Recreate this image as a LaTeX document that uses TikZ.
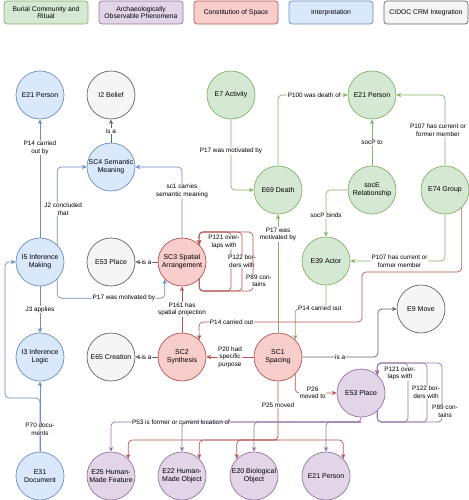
\documentclass[tikz,border=0pt]{standalone}
\usepackage{fontspec}
\setmainfont{Liberation Sans}
\usetikzlibrary{arrows.meta}
\definecolor{greenfill}{HTML}{D5E8D4}
\definecolor{greenline}{HTML}{82B366}
\definecolor{purplefill}{HTML}{E1D5E7}
\definecolor{purpleline}{HTML}{9673A6}
\definecolor{redfill}{HTML}{F8CECC}
\definecolor{redline}{HTML}{B85450}
\definecolor{bluefill}{HTML}{DAE8FC}
\definecolor{blueline}{HTML}{6C8EBF}
\definecolor{greyfill}{HTML}{F5F5F5}
\definecolor{greyline}{HTML}{666666}

\begin{document}
\begin{tikzpicture}[x=1bp, y=-1bp,
  ent/.style={circle, draw, line width=0.7bp, minimum size=48bp, inner sep=0pt, align=center, font=\fontsize{7}{8}\selectfont},
  burial/.style={ent, fill=greenfill, draw=greenline},
  archaeo/.style={ent, fill=purplefill, draw=purpleline},
  constit/.style={ent, fill=redfill, draw=redline},
  interp/.style={ent, fill=bluefill, draw=blueline},
  crm/.style={ent, fill=greyfill, draw=greyline},
  keybox/.style={rectangle, rounded corners=3bp, line width=0.7bp, minimum width=84bp, minimum height=23bp, inner sep=1bp, align=center, font=\fontsize{6.8}{7.8}\selectfont},
  rel/.style={line width=0.7bp, rounded corners=4bp, -{Stealth[length=4.5bp,width=4bp,inset=1bp]}},
  lbl/.style={fill=white, text=black, inner sep=0.6bp, align=center, font=\fontsize{6.4}{7.6}\selectfont}]
\useasboundingbox (0,0) rectangle (469,500);

\node[keybox, fill=greenfill, draw=greenline] (kburial) at (46,12.5) {Burial Community and\\Ritual};
\node[keybox, fill=purplefill, draw=purpleline] (karchaeo) at (141,12.5) {Archaeologically\\Observable Phenomena};
\node[keybox, fill=redfill, draw=redline] (kconstit) at (236,12.5) {Constitution of Space};
\node[keybox, fill=bluefill, draw=blueline] (kinterp) at (331,12.5) {Interpretation};
\node[keybox, fill=greyfill, draw=greyline] (kcrm) at (426,12.5) {CIDOC CRM Integration};

\node[interp] (e21p) at (40,95) {E21 Person};
\node[crm] (i2) at (111,95) {I2 Belief};
\node[interp] (sc4) at (111,167) {SC4 Semantic\\Meaning};
\node[burial] (e7) at (231,95) {E7 Activity};
\node[burial] (e21g) at (372,95) {E21 Person};
\node[burial] (e69) at (278,190) {E69 Death};
\node[burial] (soce) at (372,190) {socE\\Relationship};
\node[burial] (e74) at (445,190) {E74 Group};
\node[interp] (i5) at (40,262) {I5 Inference\\Making};
\node[crm] (e53g) at (111,262) {E53 Place};
\node[constit] (sc3) at (182,262) {SC3 Spatial\\Arrangement};
\node[burial] (e39) at (326,261) {E39 Actor};
\node[crm] (e9) at (421,309) {E9 Move};
\node[interp] (i3) at (40,357) {I3 Inference\\Logic};
\node[crm] (e65) at (111,357) {E65 Creation};
\node[constit] (sc2) at (182,357) {SC2\\Synthesis};
\node[constit] (sc1) at (278,357) {SC1\\Spacing};
\node[archaeo] (e53) at (361,393) {E53 Place};
\node[interp] (e31) at (40,476) {E31\\Document};
\node[archaeo] (e25) at (111,476) {E25 Human-\\Made Feature};
\node[archaeo] (e22) at (182,476) {E22 Human-\\Made Object};
\node[archaeo] (e20) at (254,476) {E20 Biological\\Object};
\node[archaeo] (e21v) at (326,476) {E21 Person};

\draw[rel, blueline] (i5) -- node[lbl, pos=0.76] {P14 carried\\out by} (e21p);
\draw[rel, greyline] (sc4) -- node[lbl] {is a} (i2);
\draw[rel, blueline] (i5.45) |- node[lbl, pos=0.23, xshift=6bp] {J2 concluded\\that} (sc4.west);
\draw[rel, blueline] (sc3.north) |- node[lbl, pos=0.33] {sc1 carries\\semantic meaning} (sc4.east);
\draw[rel, blueline] (i5.-45) -- ++(0,19) -| node[lbl, pos=0.31] {P17 was motivated by} (sc3.-135);
\draw[rel, blueline] (i5) -- node[lbl] {J3 applies} (i3);
\draw[rel, blueline] (e31) -- node[lbl, pos=0.32] {P70 docu-\\ments} (i3);
\draw[rel, blueline] (e31.north) -- (40,398) -- (5,398) -- (5,262) -- (i5.west);

\draw[rel, greenline] (e7.south) |- node[lbl, pos=0.225] {P17 was motivated by} (e69.west);
\draw[rel, greenline] (e69.north) |- node[lbl, pos=0.76] {P100 was death of} (e21g.west);
\draw[rel, greenline] (soce) -- node[lbl] {socP to} (e21g);
\draw[rel, greenline] (e74.north) |- node[lbl, pos=0.25, xshift=-7bp] {P107 has current or\\former member} (e21g.east);
\draw[rel, greenline] (soce.west) -| node[lbl, pos=0.77] {socP binds} (e39.north);
\draw[rel, greenline] (e74.south) |- node[lbl, pos=0.74] {P107 has current or\\former member} (e39.east);
\draw[rel, greenline] (sc1) -- node[lbl, pos=0.83] {P17 was\\motivated by} (e69);
\draw[rel, greenline] (e39.south) -- ++(0,23) -| node[lbl, pos=0.1] {P14 carried out} (sc1.45);

\draw[rel, greyline] (sc3) -- node[lbl] {is a} (e53g);
\draw[rel, greyline] (sc2) -- node[lbl] {is a} (e65);
\draw[rel, greyline] (sc1.east) -- node[lbl] {is a} (378,357) |- (e9.west);

\foreach \xr/\pp/\dx/\txt in {231/0.415/-7bp/{P121 over-\\laps with}, 242/0.25/0bp/{P122 bor-\\ders with}, 253/0.085/6bp/{P89 con-\\tains}}
  \draw[rel, redline] (sc3.-45) |- (\xr,291) |- node[lbl, pos=\pp, xshift=\dx] {\txt} (199,232) -- (sc3.45);
\draw[rel, redline] (sc2) -- node[lbl] {P161 has\\spatial projection} (sc3);
\draw[rel, redline] (e74.-47) |- (362,272) |- node[lbl, pos=0.9] {P14 carried out} (199,322) -- (sc2.45);
\draw[rel, redline] (sc1) -- node[lbl] {P20 had\\specific\\purpose} (sc2);
\draw[rel, redline] (sc1.-45) |- node[lbl, pos=0.71] {P26\\moved to} (e53.west);
\coordinate (rsplit) at (278,440);
\draw[rel, redline] (sc1.south) -- node[lbl, pos=0.41] {P25 moved} (rsplit) -| (e25.45);
\draw[rel, redline] (rsplit) -| (e22.45);
\draw[rel, redline] (rsplit) -| (e20.135);
\draw[rel, redline] (rsplit) -| (e21v.45);

\foreach \xr/\pp/\dx/\txt in {408/0.41/-8bp/{P121 over-\\laps with}, 427/0.25/-1bp/{P122 bor-\\ders with}, 442/0.09/3bp/{P89 con-\\tains}}
  \draw[rel, purpleline] (e53.-48) |- (\xr,422) |- node[lbl, pos=\pp, xshift=\dx] {\txt} (377,363) -- (e53.48);
\coordinate (psplit) at (361,422);
\draw[rel, purpleline] (e53.south) -- (psplit) -| node[lbl, pos=0.36] {P53 is former or current location of} (e25.north);
\draw[rel, purpleline] (psplit) -| (e22.north);
\draw[rel, purpleline] (psplit) -| (e20.north);
\draw[rel, purpleline] (psplit) -| (e21v.north);
\end{tikzpicture}
\end{document}
